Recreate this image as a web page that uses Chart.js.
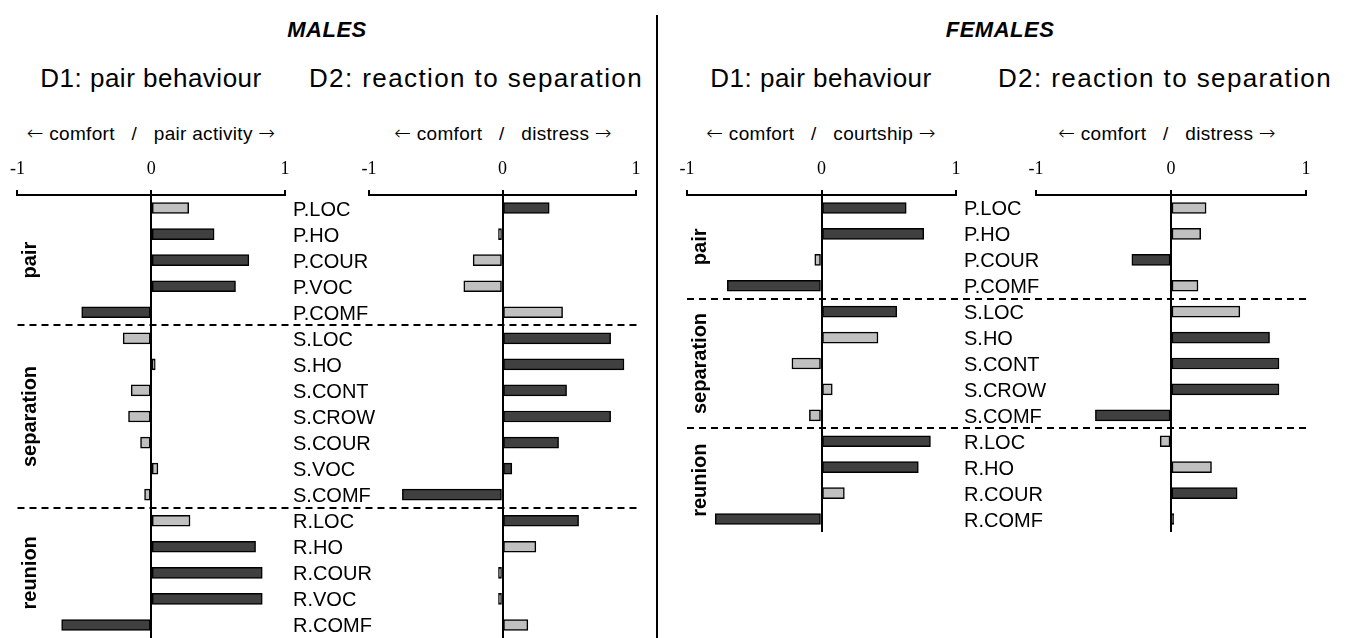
<!DOCTYPE html>
<html>
<head>
<meta charset="utf-8">
<script src="https://cdn.jsdelivr.net/npm/chart.js@4.4.1/dist/chart.umd.min.js"></script>
<style>
  body { margin: 0; background: #fff; font-family: 'Liberation Sans', Arial, sans-serif; }
  #wrap { position: relative; width: 1345px; height: 638px; overflow: hidden; }
  canvas { position: absolute; }
  .t { position: absolute; transform: translate(-50%, -50%); white-space: nowrap; color: #000; }
  .sex { font-size: 22px; font-weight: bold; font-style: italic; letter-spacing: 0.5px; }
  .dim { font-size: 26px; letter-spacing: 0.5px; }
  .dim2 { font-size: 26px; letter-spacing: 1.4px; }
  .dir { font-size: 19px; letter-spacing: 0.3px; }
  .dir span { font-family: 'DejaVu Sans', sans-serif; font-size: 20px; font-weight: 300; }
  #divider { position: absolute; left: 656px; top: 15px; width: 2px; height: 623px; background: #000; }
</style>
</head>
<body>
<div id="wrap">
  <div class="t sex" style="left:327px;top:30px">MALES</div>
  <div class="t sex" style="left:1000px;top:30px">FEMALES</div>
  <div class="t dim" style="left:151px;top:78px">D1: pair behaviour</div>
  <div class="t dim2" style="left:476px;top:78px">D2: reaction to separation</div>
  <div class="t dim" style="left:821px;top:78px">D1: pair behaviour</div>
  <div class="t dim2" style="left:1165px;top:78px">D2: reaction to separation</div>
  <div class="t dir" style="left:151px;top:133px"><span>&larr;</span> comfort&nbsp;&nbsp; /&nbsp;&nbsp; pair activity <span>&rarr;</span></div>
  <div class="t dir" style="left:503px;top:133px"><span>&larr;</span> comfort&nbsp;&nbsp; /&nbsp;&nbsp; distress <span>&rarr;</span></div>
  <div class="t dir" style="left:821px;top:133px"><span>&larr;</span> comfort&nbsp;&nbsp; /&nbsp;&nbsp; courtship <span>&rarr;</span></div>
  <div class="t dir" style="left:1167px;top:133px"><span>&larr;</span> comfort&nbsp;&nbsp; /&nbsp;&nbsp; distress <span>&rarr;</span></div>
  <div id="divider"></div>

  <canvas id="mD1" width="660" height="488" style="left:0px;top:150px"></canvas>
  <canvas id="mD2" width="320" height="488" style="left:340px;top:150px"></canvas>
  <canvas id="fD1" width="685" height="382" style="left:660px;top:150px"></canvas>
  <canvas id="fD2" width="345" height="382" style="left:1000px;top:150px"></canvas>
</div>

<script>
// axis ticks
const ticksX = [-1, 0, 1];

// males
const maleCats = ['P.LOC', 'P.HO', 'P.COUR', 'P.VOC', 'P.COMF', 'S.LOC', 'S.HO', 'S.CONT', 'S.CROW', 'S.COUR', 'S.VOC', 'S.COMF', 'R.LOC', 'R.HO', 'R.COUR', 'R.VOC', 'R.COMF'];
const maleD1 = [0.28, 0.47, 0.73, 0.63, -0.52, -0.21, 0.03, -0.15, -0.17, -0.08, 0.05, -0.05, 0.29, 0.78, 0.83, 0.83, -0.67];
const maleD1Sig = [0, 1, 1, 1, 1, 0, 0, 0, 0, 0, 0, 0, 0, 1, 1, 1, 1];
const maleD2 = [0.35, -0.03, -0.22, -0.29, 0.45, 0.81, 0.91, 0.48, 0.81, 0.42, 0.07, -0.75, 0.57, 0.25, -0.03, -0.03, 0.19];
const maleD2Sig = [1, 0, 0, 0, 0, 1, 1, 1, 1, 1, 1, 1, 1, 0, 0, 0, 0];
const maleGroups = [['pair', 0, 4], ['separation', 5, 11], ['reunion', 12, 16]];

// females
const femaleCats = ['P.LOC', 'P.HO', 'P.COUR', 'P.COMF', 'S.LOC', 'S.HO', 'S.CONT', 'S.CROW', 'S.COMF', 'R.LOC', 'R.HO', 'R.COUR', 'R.COMF'];
const femaleD1 = [0.63, 0.76, -0.05, -0.70, 0.56, 0.42, -0.22, 0.08, -0.09, 0.81, 0.72, 0.17, -0.79];
const femaleD1Sig = [1, 1, 0, 1, 1, 0, 0, 0, 0, 1, 1, 0, 1];
const femaleD2 = [0.26, 0.22, -0.29, 0.20, 0.51, 0.73, 0.80, 0.80, -0.56, -0.08, 0.30, 0.49, 0.02];
const femaleD2Sig = [0, 0, 1, 0, 0, 1, 1, 1, 1, 0, 0, 1, 1];
const femaleGroups = [['pair', 0, 3], ['separation', 4, 8], ['reunion', 9, 12]];

const DARK = '#404040';
const LIGHT = '#c0c0c0';

// draws behaviour names, group names and dashed separators (only on D1 panels)
function sidePlugin(cats, groups, dashRight) {
    return {
        id: 'side',
        afterDraw(chart) {
            const ctx = chart.ctx;
            const y = chart.scales.y;
            const area = chart.chartArea;
            ctx.save();
            ctx.fillStyle = '#000';
            ctx.font = '20px "Liberation Sans", Arial, sans-serif';
            ctx.textAlign = 'left';
            ctx.textBaseline = 'middle';
            cats.forEach((c, i) => {
                ctx.fillText(c, area.right + 8, y.getPixelForValue(i) + 2);
            });

            ctx.font = 'bold 20px "Liberation Sans", Arial, sans-serif';
            ctx.textAlign = 'center';
            groups.forEach(g => {
                const yc = (y.getPixelForValue(g[1]) + y.getPixelForValue(g[2])) / 2;
                ctx.save();
                ctx.translate(area.left + 13, yc);
                ctx.rotate(-Math.PI / 2);
                ctx.fillText(g[0], 0, 0);
                ctx.restore();
            });

            ctx.strokeStyle = '#000';
            ctx.lineWidth = 2;
            ctx.setLineDash([7, 5]);
            groups.slice(1).forEach(g => {
                const yy = Math.round((y.getPixelForValue(g[1] - 1) + y.getPixelForValue(g[1])) / 2);
                ctx.beginPath();
                ctx.moveTo(area.left, yy);
                ctx.lineTo(dashRight, yy);
                ctx.stroke();
            });
            ctx.restore();
        }
    };
}

function panel(id, cats, vals, sig, padL, padR, plugin) {
    return new Chart(document.getElementById(id), {
        type: 'bar',
        data: {
            labels: cats,
            datasets: [{
                data: vals,
                backgroundColor: sig.map(s => s ? DARK : LIGHT),
                borderColor: '#000',
                borderWidth: 1.5,
                borderSkipped: false,
                barThickness: 11
            }]
        },
        options: {
            indexAxis: 'y',
            responsive: false,
            animation: false,
            layout: { padding: { left: padL, right: padR, top: 0, bottom: 0 } },
            plugins: {
                legend: { display: false },
                tooltip: { enabled: false }
            },
            scales: {
                x: {
                    type: 'linear',
                    position: 'top',
                    min: -1,
                    max: 1,
                    afterBuildTicks: s => { s.ticks = ticksX.map(v => ({ value: v })); },
                    afterFit: s => { s.height = 45; },
                    ticks: {
                        color: '#000',
                        padding: 10,
                        font: { family: '"Liberation Serif", "Times New Roman", serif', size: 18 },
                        callback: v => String(v)
                    },
                    grid: {
                        color: c => (c.tick && c.tick.value === 0) ? '#000' : 'rgba(0,0,0,0)',
                        tickColor: '#000',
                        lineWidth: 2,
                        tickLength: 5
                    },
                    border: { display: true, color: '#000', width: 2 }
                },
                y: { display: false }
            }
        },
        plugins: plugin ? [plugin] : []
    });
}

panel('mD1', maleCats, maleD1, maleD1Sig, 17, 375, sidePlugin(maleCats, maleGroups, 641));
panel('mD2', maleCats, maleD2, maleD2Sig, 29, 24, null);
panel('fD1', femaleCats, femaleD1, femaleD1Sig, 27, 389, sidePlugin(femaleCats, femaleGroups, 646));
panel('fD2', femaleCats, femaleD2, femaleD2Sig, 36, 39, null);
</script>
</body>
</html>
